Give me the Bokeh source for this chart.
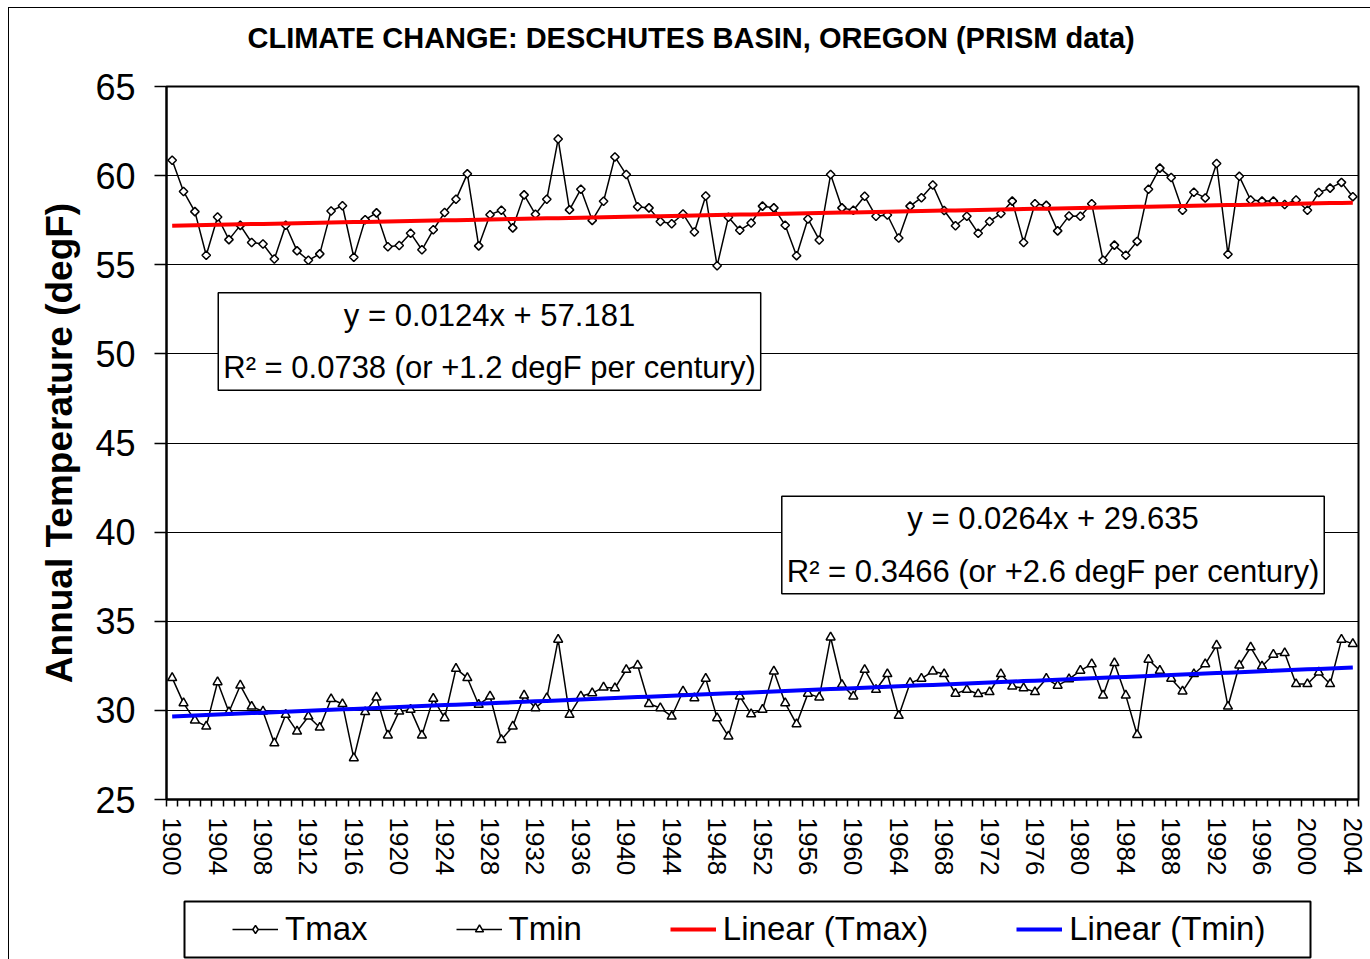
import numpy as np
from bokeh.plotting import figure
from bokeh.models import Range1d, FixedTicker, Label, Legend, LegendItem, BoxAnnotation
from bokeh.layouts import column
from bokeh.embed import file_html
from bokeh.resources import INLINE

# ---------------- data ----------------
years = list(range(1900, 2005))

tmax = [60.86, 59.11, 57.98, 55.53, 57.68, 56.41, 57.21, 56.25, 56.16, 55.32,
        57.22, 55.78, 55.25, 55.61, 58.02, 58.31, 55.42, 57.53, 57.91, 56.01,
        56.08, 56.77, 55.84, 56.96, 57.93, 58.67, 60.10, 56.06, 57.81, 58.06,
        57.07, 58.92, 57.83, 58.67, 62.05, 58.08, 59.24, 57.49, 58.56, 61.05,
        60.06, 58.25, 58.19, 57.43, 57.30, 57.85, 56.84, 58.86, 54.94, 57.66,
        56.94, 57.34, 58.29, 58.19, 57.22, 55.51, 57.57, 56.39, 60.06, 58.19,
        58.06, 58.84, 57.72, 57.79, 56.50, 58.29, 58.76, 59.47, 58.04, 57.19,
        57.72, 56.77, 57.43, 57.87, 58.57, 56.25, 58.42, 58.33, 56.90, 57.74,
        57.72, 58.42, 55.25, 56.10, 55.53, 56.31, 59.24, 60.42, 59.89, 58.06,
        59.07, 58.75, 60.68, 55.59, 59.96, 58.63, 58.57, 58.57, 58.38, 58.63,
        58.06, 59.05, 59.30, 59.62, 58.82]

tmin = [31.82, 30.41, 29.44, 29.10, 31.59, 29.91, 31.40, 30.22, 29.94, 28.16,
        29.76, 28.82, 29.66, 29.04, 30.64, 30.36, 27.32, 29.91, 30.73, 28.60,
        29.94, 30.04, 28.60, 30.66, 29.57, 32.34, 31.82, 30.32, 30.79, 28.35,
        29.10, 30.84, 30.13, 30.69, 33.97, 29.76, 30.79, 30.97, 31.29, 31.25,
        32.28, 32.53, 30.37, 30.13, 29.66, 31.07, 30.69, 31.78, 29.57, 28.54,
        30.79, 29.79, 30.04, 32.19, 30.41, 29.23, 30.94, 30.73, 34.10, 31.44,
        30.79, 32.28, 31.16, 32.04, 29.70, 31.54, 31.78, 32.19, 32.04, 30.94,
        31.16, 30.92, 31.03, 32.04, 31.35, 31.25, 31.03, 31.78, 31.39, 31.75,
        32.23, 32.60, 30.84, 32.66, 30.84, 28.63, 32.85, 32.23, 31.78, 31.07,
        32.04, 32.60, 33.65, 30.22, 32.53, 33.54, 32.47, 33.13, 33.22, 31.48,
        31.48, 32.13, 31.48, 33.97, 33.73]

tmax_slope, tmax_intercept, tmax_r2, tmax_century = 0.0124, 57.181, 0.0738, "+1.2"
tmin_slope, tmin_intercept, tmin_r2, tmin_century = 0.0264, 29.635, 0.3466, "+2.6"

year_labels = list(range(1900, 2005, 4))
y_ticks = [25, 30, 35, 40, 45, 50, 55, 60, 65]

title_text = "CLIMATE CHANGE: DESCHUTES BASIN, OREGON (PRISM data)"
y_label = "Annual Temperature (degF)"
series_names = ["Tmax", "Tmin", "Linear (Tmax)", "Linear (Tmin)"]

# Excel trendline: x is the point index 1..n
idx = np.arange(1, len(years) + 1)
tmax_trend = tmax_slope * idx + tmax_intercept
tmin_trend = tmin_slope * idx + tmin_intercept

FONT = "Liberation Sans"
x_lo, x_hi = years[0] - 0.5, years[-1] + 0.5
BL, BR = 157, 12          # left/right borders shared by all three strips


def strip(height, x_range, y_range):
    f = figure(width=1361, height=height, title=None,
               x_range=x_range, y_range=y_range,
               output_backend="svg", toolbar_location=None,
               x_axis_location=None, y_axis_location=None,
               min_border_left=BL, min_border_right=BR,
               min_border_top=0, min_border_bottom=0,
               background_fill_color="white", border_fill_color="white",
               outline_line_color=None)
    f.grid.visible = False
    return f


# ---------------- title strip ----------------
pt = strip(52, Range1d(0, 1192), Range1d(0, 52))
pt.add_layout(Label(x=81, y=23, x_units="data", y_units="data",
                    text=title_text, text_align="left", text_baseline="middle",
                    text_font=FONT, text_font_size="29px", text_font_style="bold",
                    text_color="black"))

# ---------------- main chart ----------------
p = figure(width=1361, height=833, title=None,
           x_range=Range1d(x_lo, x_hi), y_range=Range1d(y_ticks[0], y_ticks[-1]),
           output_backend="svg", toolbar_location=None,
           min_border_left=BL, min_border_right=BR,
           min_border_top=26, min_border_bottom=94,
           background_fill_color="white", border_fill_color="white",
           outline_line_color="black", outline_line_width=2)

# x axis
xa = p.xaxis[0]
xa.ticker = FixedTicker(ticks=year_labels,
                        minor_ticks=[y - 0.5 for y in years] + [years[-1] + 0.5])
xa.major_label_orientation = "vertical"
xa.major_label_text_font = FONT
xa.major_label_text_font_size = "26px"
xa.major_label_text_color = "black"
xa.major_label_standoff = 11
xa.major_tick_out = 0
xa.major_tick_in = 0
xa.minor_tick_out = 7
xa.minor_tick_in = 0
xa.minor_tick_line_color = "black"
xa.minor_tick_line_width = 1.5
xa.axis_line_color = "black"
xa.axis_line_width = 2

# y axis
ya = p.yaxis[0]
ya.ticker = FixedTicker(ticks=y_ticks)
ya.major_label_text_font = FONT
ya.major_label_text_font_size = "36px"
ya.major_label_text_color = "black"
ya.major_label_standoff = 19
ya.major_tick_out = 12
ya.major_tick_in = 0
ya.major_tick_line_color = "black"
ya.major_tick_line_width = 1.5
ya.minor_tick_line_color = None
ya.axis_line_color = "black"
ya.axis_line_width = 2
ya.axis_label = y_label
ya.axis_label_text_font = FONT
ya.axis_label_text_font_size = "37px"
ya.axis_label_text_font_style = "bold"
ya.axis_label_text_color = "black"
ya.axis_label_standoff = 12

p.xgrid.visible = False
p.ygrid.ticker = FixedTicker(ticks=y_ticks)
p.ygrid.grid_line_color = "black"
p.ygrid.grid_line_width = 1


def draw_series(fig, tmax_marker, tmax_angle):
    r = {}
    r["tmax_l"] = fig.line(years, tmax, line_color="black", line_width=1.5)
    r["tmax_s"] = fig.scatter(years, tmax, marker=tmax_marker, angle=tmax_angle, size=6,
                              fill_color="white", line_color="black", line_width=1.5)
    r["tmin_l"] = fig.line(years, tmin, line_color="black", line_width=1.5)
    r["tmin_s"] = fig.scatter(years, tmin, marker="triangle", size=9,
                              fill_color="white", line_color="black", line_width=1.5)
    r["tmax_t"] = fig.line(years, tmax_trend, line_color="#ff0000", line_width=4)
    r["tmin_t"] = fig.line(years, tmin_trend, line_color="#0000ff", line_width=4)
    return r


draw_series(p, "square", np.pi / 4)

eq_style = dict(x_units="data", y_units="data", text_align="center", text_baseline="middle",
                text_font=FONT, text_font_size="31px", text_color="black",
                text_line_height=1.5, background_fill_color="white",
                border_line_color="black", border_line_width=1.5, padding=5)
eq1 = Label(x=1927.95, y=50.69,
            text=f"y = {tmax_slope}x + {tmax_intercept}\nR\u00b2 = {tmax_r2} (or {tmax_century} degF per century)",
            **eq_style)
eq2 = Label(x=1977.59, y=39.28,
            text=f"y = {tmin_slope}x + {tmin_intercept}\nR\u00b2 = {tmin_r2} (or {tmin_century} degF per century)",
            **eq_style)
p.add_layout(eq1)
p.add_layout(eq2)

# ---------------- legend strip ----------------
p2 = strip(66, Range1d(0, 1192), Range1d(-66, 0))
# the series are drawn outside this strip's visible range: only their legend glyphs show
r2 = draw_series(p2, "diamond", 0)
p2.add_layout(BoxAnnotation(left=18, right=1144, bottom=-64, top=-8,
                            fill_alpha=0, line_color="black", line_alpha=1, line_width=2))

legend = Legend(items=[
    LegendItem(label=series_names[0], renderers=[r2["tmax_l"], r2["tmax_s"]]),
    LegendItem(label=series_names[1], renderers=[r2["tmin_l"], r2["tmin_s"]]),
    LegendItem(label=series_names[2], renderers=[r2["tmax_t"]]),
    LegendItem(label=series_names[3], renderers=[r2["tmin_t"]]),
], orientation="horizontal", location=(66, 11), padding=0, margin=0, spacing=88,
    glyph_width=46, glyph_height=20, label_standoff=7,
    label_text_font=FONT, label_text_font_size="33px", label_text_color="black",
    border_line_color=None, background_fill_alpha=0)
p2.add_layout(legend)

layout = column(pt, p, p2, spacing=0, margin=(7, 0, 0, 8),
                styles={"border-top": "1px solid #000", "border-left": "1px solid #000"})

html = file_html(layout, INLINE).replace("<body>", '<body style="background:#d0d0d0;">', 1)
open("out.html", "w").write(html)
